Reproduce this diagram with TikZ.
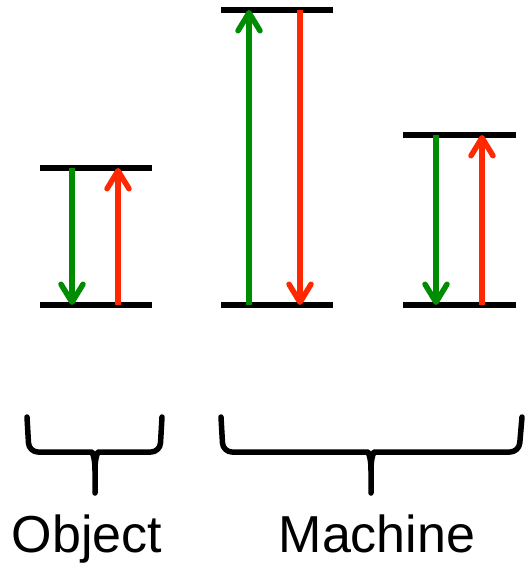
\documentclass[tikz,border=0pt]{standalone}
\usepackage{fontspec}
\setmainfont{Liberation Sans}
\usetikzlibrary{calc}
\usetikzlibrary{arrows.meta}
\definecolor{emgreen}{RGB}{0,140,0}
\definecolor{absred}{RGB}{255,40,0}

\begin{document}
\begin{tikzpicture}[x=1pt,y=-1pt,
  level/.style={line width=5.5pt,black},
  trans/.style={line width=5.5pt,-{Straight Barb[length=18pt,width=22pt,round]}},
  brace/.style={line width=5.5pt,line cap=round,line join=round}]
  \useasboundingbox (0,0) rectangle (529,568);

  % Object
  \coordinate (og) at (40,305);
  \coordinate (oe) at (40,168);
  \draw[level] (og) -- ++(112,0);
  \draw[level] (oe) -- ++(112,0);
  \draw[trans,emgreen] ($(oe)+(32,0)$) -- ($(og)+(32,0)$);
  \draw[trans,absred] ($(og)+(78,0)$) -- ($(oe)+(78,0)$);

  % Machine, first pair of levels
  \coordinate (mg) at (221,305);
  \coordinate (me) at (221,10);
  \draw[level] (mg) -- ++(112,0);
  \draw[level] (me) -- ++(112,0);
  \draw[trans,emgreen] ($(mg)+(28,0)$) -- ($(me)+(28,0)$);
  \draw[trans,absred] ($(me)+(79,0)$) -- ($(mg)+(79,0)$);

  % Machine, second pair of levels
  \coordinate (ng) at (403,305);
  \coordinate (ne) at (403,135);
  \draw[level] (ng) -- ++(113,0);
  \draw[level] (ne) -- ++(113,0);
  \draw[trans,emgreen] ($(ne)+(33,0)$) -- ($(ng)+(33,0)$);
  \draw[trans,absred] ($(ng)+(79,0)$) -- ($(ne)+(79,0)$);

  % Braces
  \draw[brace] (27,417) [rounded corners=9pt] -- (29,452) -- (83,452) [sharp corners]
    .. controls (92,452) and (95,457) .. (95,470) -- (95,493);
  \draw[brace] (162,417) [rounded corners=9pt] -- (160,452) -- (107,452) [sharp corners]
    .. controls (98,452) and (95,457) .. (95,470);
  \draw[brace] (221,417) [rounded corners=9pt] -- (223,452) -- (359,452) [sharp corners]
    .. controls (368,452) and (371,457) .. (371,470) -- (371,493);
  \draw[brace] (522,417) [rounded corners=9pt] -- (519,452) -- (383,452) [sharp corners]
    .. controls (374,452) and (371,457) .. (371,470);

  % Labels
  \node[anchor=base,inner sep=0pt,font=\fontsize{52}{60}\selectfont] (object) at (87,552) {Object};
  \node[anchor=base,inner sep=0pt,font=\fontsize{52}{60}\selectfont] (machine) at (377,552) {Machine};
\end{tikzpicture}
\end{document}
